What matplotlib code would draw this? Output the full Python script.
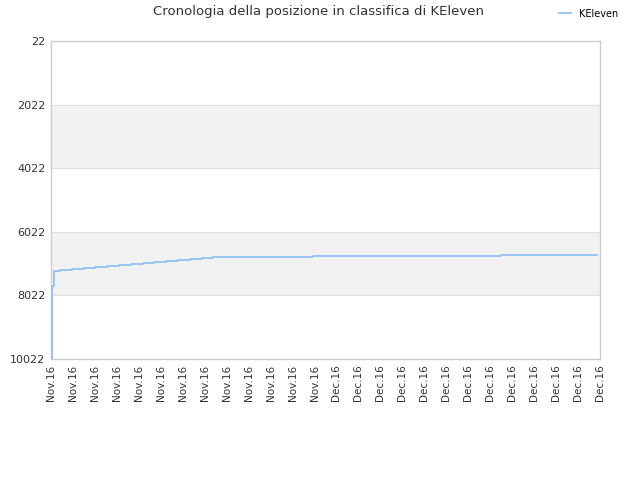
import matplotlib
matplotlib.use("Agg")
import matplotlib.pyplot as plt

# giorni (0 = primo cambio giornaliero) e posizione in classifica
days = [-0.65, -0.65, -0.53, 0, 1, 2, 3, 4, 5, 6, 7, 8, 9, 10, 11, 12, 13, 21.4, 37.4, 45.5]
ranks = [10022, 7717, 7246, 7214, 7183, 7151, 7120, 7089, 7057, 7026, 6994,
         6963, 6931, 6900, 6869, 6837, 6806, 6774, 6743, 6743]

tick_labels = ["Nov.16"] * 13 + ["Dec.16"] * 13
y_ticks = [22, 2022, 4022, 6022, 8022, 10022]

x_min, x_max = -0.76, 45.76

fig = plt.figure(figsize=(6.4, 4.8), dpi=100)
ax = fig.add_axes([0.0797, 0.252, 0.8578, 0.6626])

# bande grigie alternate
for lo, hi in [(2022, 4022), (6022, 8022)]:
    ax.axhspan(lo, hi, color="#f2f2f2", zorder=0, lw=0)
for y in y_ticks:
    ax.axhline(y, color="#e0e0e0", lw=0.8, zorder=1)

ax.plot(days, ranks, drawstyle="steps-post", color="#90c2f2", lw=1.3,
        zorder=3, label="KEleven")

ax.set_xlim(x_min, x_max)
ax.set_ylim(10022, 22)
ax.set_yticks(y_ticks)
ax.set_yticklabels([str(v) for v in y_ticks], fontsize=8, color="#333333")

step = (x_max - x_min) / (len(tick_labels) - 1)
ax.set_xticks([x_min + i * step for i in range(len(tick_labels))])
ax.set_xticklabels(tick_labels, rotation=90, fontsize=7.5, color="#333333")
ax.tick_params(length=0, pad=4)

for s in ax.spines.values():
    s.set_color("#cccccc")
    s.set_linewidth(1)

fig.text(0.497, 0.975, "Cronologia della posizione in classifica di KEleven",
         ha="center", va="center", fontsize=9.5, color="#333333")
ax.legend(loc="upper left", bbox_to_anchor=(0.86, 1.0), bbox_transform=fig.transFigure,
          frameon=False, fontsize=7, handlelength=1.2, handletextpad=0.8)

fig.savefig("out.png", dpi=100)
